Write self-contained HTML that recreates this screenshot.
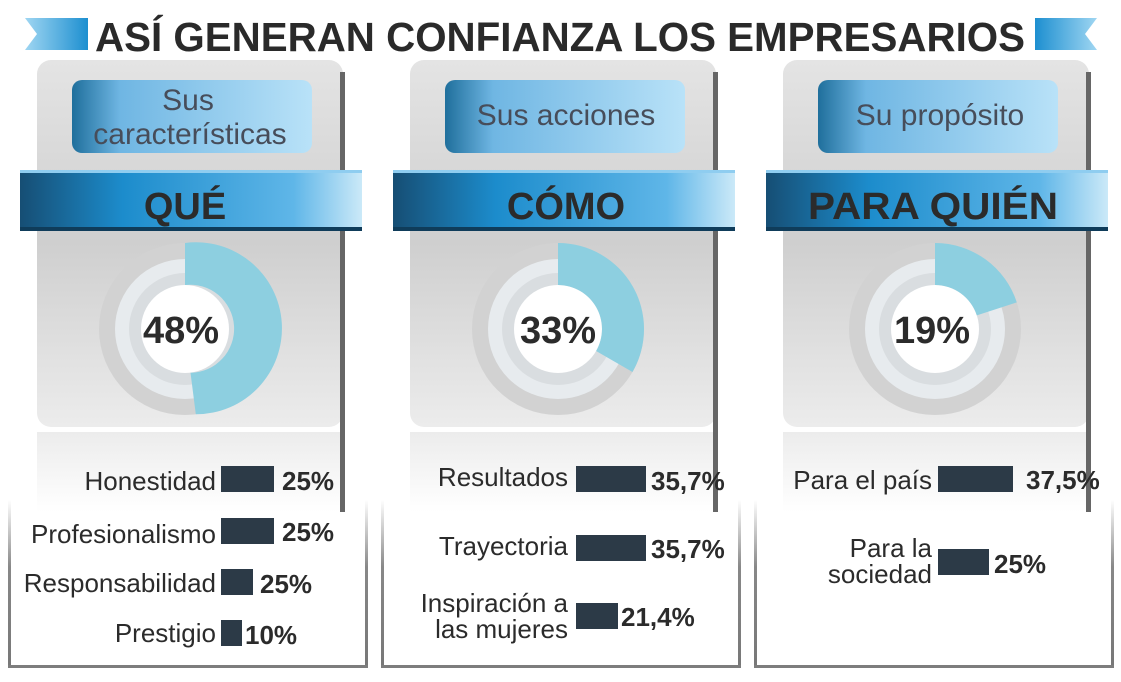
<!DOCTYPE html>
<html><head><meta charset="utf-8"><style>
html,body{margin:0;padding:0;background:#fff;}
svg{display:block;font-family:"Liberation Sans",sans-serif;}
</style></head><body>
<svg width="1121" height="682" viewBox="0 0 1121 682" xmlns="http://www.w3.org/2000/svg">
<defs>
<linearGradient id="arr" x1="0" x2="1"><stop offset="0" stop-color="#9fd6f2"/><stop offset="1" stop-color="#1d8fd0"/></linearGradient>
<linearGradient id="arr2" x1="1" x2="0"><stop offset="0" stop-color="#9fd6f2"/><stop offset="1" stop-color="#1d8fd0"/></linearGradient>
<linearGradient id="card" x1="0" y1="0" x2="0" y2="1"><stop offset="0" stop-color="#e4e4e4"/><stop offset="0.5" stop-color="#cfcfcf"/><stop offset="1" stop-color="#ececec"/></linearGradient>
<linearGradient id="lab" x1="0" x2="1"><stop offset="0" stop-color="#1f6f9c"/><stop offset="0.2" stop-color="#6fb6e3"/><stop offset="1" stop-color="#b9e2f8"/></linearGradient>
<linearGradient id="rib" x1="0" x2="1"><stop offset="0" stop-color="#164e74"/><stop offset="0.3" stop-color="#1c8ccc"/><stop offset="0.8" stop-color="#5fb6e8"/><stop offset="1" stop-color="#cbe9f8"/></linearGradient>
<linearGradient id="frm" x1="0" y1="0" x2="0" y2="1"><stop offset="0" stop-color="#fff"/><stop offset="0.4" stop-color="#888"/><stop offset="1" stop-color="#777"/></linearGradient>
<linearGradient id="lower" x1="0" y1="0" x2="0" y2="1"><stop offset="0" stop-color="#ececec"/><stop offset="1" stop-color="#fff"/></linearGradient>
<g id="panel">
  <rect x="0" y="500" width="3" height="168" fill="url(#frm)"/>
  <rect x="357" y="500" width="3" height="168" fill="url(#frm)"/>
  <rect x="0" y="665" width="360" height="3" fill="#7d7d7d"/>
  <rect x="29" y="432" width="303" height="80" fill="url(#lower)"/>
  <rect x="29" y="60" width="306" height="367" rx="14" fill="url(#card)"/>
  <rect x="332" y="72" width="5" height="440" fill="#666"/>
  <rect x="64" y="80" width="240" height="73" rx="10" fill="url(#lab)"/>
  <rect x="12" y="170" width="342" height="60" fill="url(#rib)"/>
  <rect x="12" y="170" width="342" height="3" fill="#8fcdf0"/>
  <rect x="12" y="227" width="342" height="4" fill="#0f3c5a"/>
</g>
<g id="donut">
  <circle cx="0" cy="0" r="86" fill="#d2d2d2"/>
  <circle cx="0" cy="0" r="70" fill="#e7ebee"/>
  <circle cx="0" cy="0" r="56" fill="#d9dde0"/>
  <circle cx="0" cy="0" r="44" fill="#fff"/>
</g>
</defs>
<!-- title -->
<polygon points="25,18 88,18 88,50 25,50 37,34" fill="url(#arr)"/>
<polygon points="1035,18 1097,18 1085,34 1097,50 1035,50" fill="url(#arr2)"/>
<text x="560" y="51" text-anchor="middle" font-size="41" font-weight="bold" fill="#2a2a2a" textLength="930" lengthAdjust="spacingAndGlyphs">ASÍ GENERAN CONFIANZA LOS EMPRESARIOS</text>

<use href="#panel" x="8"/>
<use href="#panel" x="381"/>
<use href="#panel" x="754"/>

<g font-weight="bold" fill="#2b2b2b" text-anchor="middle">
<text x="185" y="219" font-size="38">QUÉ</text>
<text x="566" y="219" font-size="38">CÓMO</text>
<text x="933" y="219" font-size="38" textLength="250" lengthAdjust="spacingAndGlyphs">PARA QUIÉN</text>
</g>
<g fill="#474d5a" text-anchor="middle" font-size="30">
<text x="188" y="110">Sus</text>
<text x="190" y="144">características</text>
<text x="566" y="125">Sus acciones</text>
<text x="940" y="125">Su propósito</text>
</g>

<!-- donuts -->
<g>
<use href="#donut" x="185" y="329"/>
<path d="M185,243 A86,86 0 1 1 195.8,414.3 L190.5,372.7 A44,44 0 1 0 185,285 Z" fill="#8dcfe0"/>
<text x="181" y="343" text-anchor="middle" font-size="38" font-weight="bold" fill="#2b2b2b">48%</text>

<use href="#donut" x="558" y="329"/>
<path d="M558,243 A86,86 0 0 1 632.5,372 L596.1,351 A44,44 0 0 0 558,285 Z" fill="#8dcfe0"/>
<text x="558" y="343" text-anchor="middle" font-size="38" font-weight="bold" fill="#2b2b2b">33%</text>

<use href="#donut" x="935" y="329"/>
<path d="M935,243 A86,86 0 0 1 1016.8,302.4 L976.8,315.4 A44,44 0 0 0 935,285 Z" fill="#8dcfe0"/>
<text x="932" y="343" text-anchor="middle" font-size="38" font-weight="bold" fill="#2b2b2b">19%</text>
</g>

<!-- bars -->
<g fill="#2c3a47">
<rect x="221" y="466" width="53" height="26"/>
<rect x="221" y="518" width="53" height="26"/>
<rect x="221" y="569" width="32" height="26"/>
<rect x="221" y="620" width="21" height="26"/>
<rect x="576" y="466" width="70" height="26"/>
<rect x="576" y="535" width="70" height="26"/>
<rect x="576" y="603" width="42" height="26"/>
<rect x="938" y="466" width="75" height="26"/>
<rect x="938" y="549" width="51" height="26"/>
</g>
<g font-size="26" fill="#2b2b2b" text-anchor="end">
<text x="216" y="490">Honestidad</text>
<text x="216" y="543">Profesionalismo</text>
<text x="216" y="592">Responsabilidad</text>
<text x="216" y="642">Prestigio</text>
<text x="568" y="486">Resultados</text>
<text x="568" y="555">Trayectoria</text>
<text x="568" y="612">Inspiración a</text>
<text x="568" y="638">las mujeres</text>
<text x="932" y="489">Para el país</text>
<text x="932" y="557">Para la</text>
<text x="932" y="583">sociedad</text>
</g>
<g font-size="26" font-weight="bold" fill="#2b2b2b">
<text x="282" y="490">25%</text>
<text x="282" y="541">25%</text>
<text x="260" y="593">25%</text>
<text x="245" y="644">10%</text>
<text x="651" y="490">35,7%</text>
<text x="651" y="558">35,7%</text>
<text x="621" y="626">21,4%</text>
<text x="1026" y="489">37,5%</text>
<text x="994" y="573">25%</text>
</g>
</svg>
</body></html>
